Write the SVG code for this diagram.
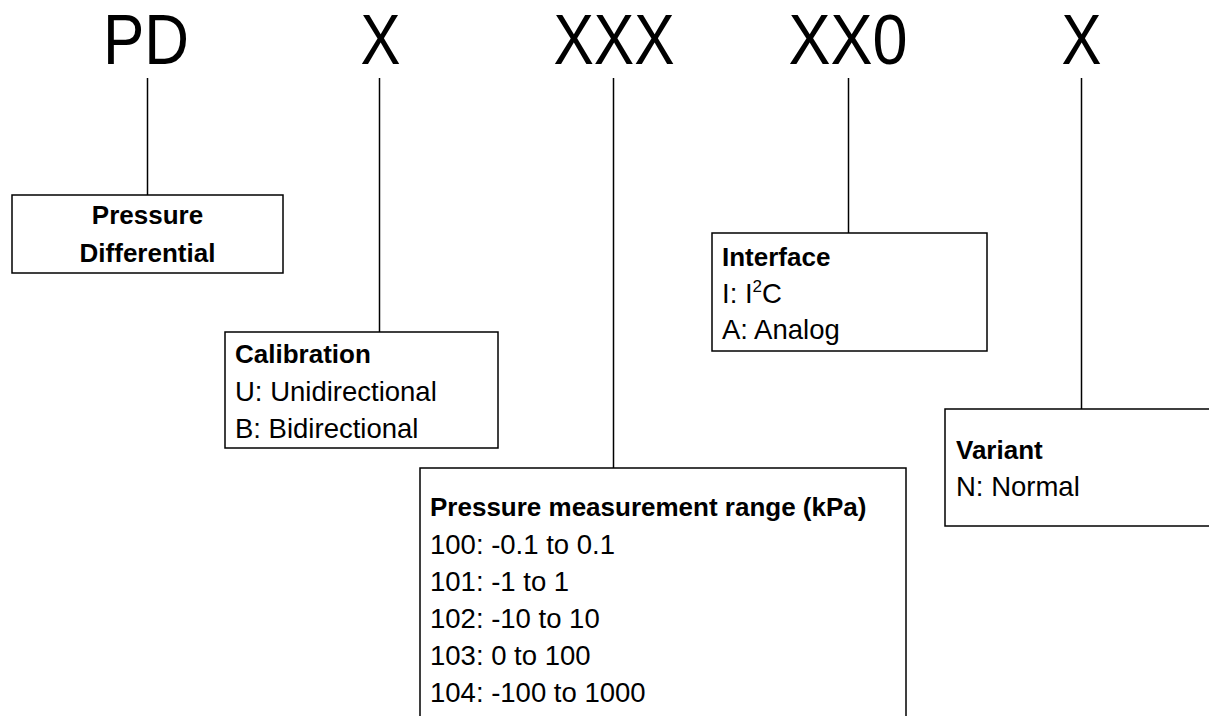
<svg xmlns="http://www.w3.org/2000/svg" width="1209" height="716" viewBox="0 0 1209 716">
<style>
.big{font-family:"Liberation Sans",Arial,sans-serif;font-size:70px;fill:#000}
.b{font-family:"Liberation Sans",Arial,sans-serif;font-size:26px;font-weight:bold;fill:#000}
.r{font-family:"Liberation Sans",Arial,sans-serif;font-size:27.5px;fill:#000}
.box{fill:#fff;stroke:#000;stroke-width:1.5}
.ln{stroke:#000;stroke-width:1.5;fill:none}
</style>
<rect width="1209" height="716" fill="#fff"/>
<g id="code">
<text class="big" x="103" y="64" textLength="86" lengthAdjust="spacingAndGlyphs">PD</text>
<text class="big" x="360.5" y="64" textLength="40" lengthAdjust="spacingAndGlyphs">X</text>
<text class="big" x="553.5" y="64" textLength="121" lengthAdjust="spacingAndGlyphs">XXX</text>
<text class="big" x="788.5" y="64" textLength="119" lengthAdjust="spacingAndGlyphs">XX0</text>
<text class="big" x="1061.5" y="64" textLength="40" lengthAdjust="spacingAndGlyphs">X</text>
</g>
<g id="connectors">
<line class="ln" x1="147.5" y1="78" x2="147.5" y2="195"/>
<line class="ln" x1="379.5" y1="78" x2="379.5" y2="332"/>
<line class="ln" x1="613.5" y1="78" x2="613.5" y2="468"/>
<line class="ln" x1="848.5" y1="78" x2="848.5" y2="233"/>
<line class="ln" x1="1081.5" y1="78" x2="1081.5" y2="409"/>
</g>
<g id="pressure-differential">
<rect class="box" x="12" y="195" width="271" height="78"/>
<text class="b" x="147.5" y="224" text-anchor="middle">Pressure</text>
<text class="b" x="147.5" y="262" text-anchor="middle">Differential</text>
</g>
<g id="calibration">
<rect class="box" x="225" y="332" width="273" height="116"/>
<text class="b" x="235" y="363">Calibration</text>
<text class="r" x="235" y="401">U: Unidirectional</text>
<text class="r" x="235" y="438">B: Bidirectional</text>
</g>
<g id="range">
<rect class="box" x="420" y="468" width="486" height="260"/>
<text class="b" x="430" y="516">Pressure measurement range (kPa)</text>
<text class="r" x="430" y="554">100: -0.1 to 0.1</text>
<text class="r" x="430" y="591">101: -1 to 1</text>
<text class="r" x="430" y="628">102: -10 to 10</text>
<text class="r" x="430" y="665">103: 0 to 100</text>
<text class="r" x="430" y="702">104: -100 to 1000</text>
</g>
<g id="interface">
<rect class="box" x="712" y="233" width="275" height="118"/>
<text class="b" x="722" y="266">Interface</text>
<text class="r" x="722" y="303">I: I<tspan font-size="17" dy="-11">2</tspan><tspan dy="11">C</tspan></text>
<text class="r" x="722" y="339">A: Analog</text>
</g>
<g id="variant">
<rect class="box" x="945" y="409" width="280" height="117"/>
<text class="b" x="956" y="459">Variant</text>
<text class="r" x="956" y="496">N: Normal</text>
</g>
</svg>
